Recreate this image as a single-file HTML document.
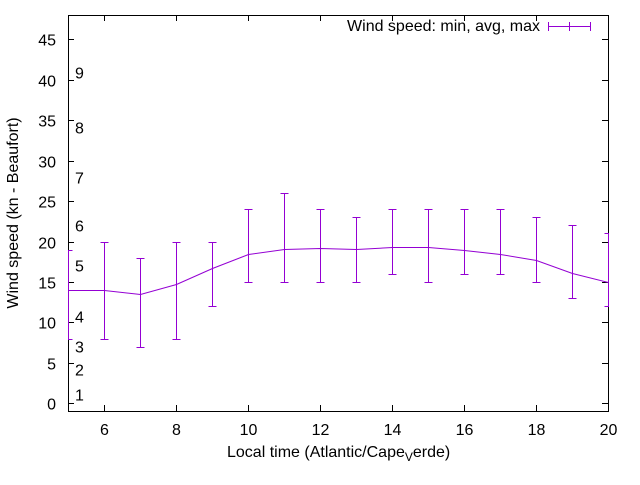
<!DOCTYPE html>
<html><head><style>
body{margin:0;background:#fff;}
svg text{font-family:"Liberation Sans",sans-serif;font-size:16px;fill:#000;}
</style></head><body>
<svg width="640" height="480" id="c" shape-rendering="crispEdges">
<rect x="68.5" y="15.5" width="540" height="396" fill="none" stroke="#000" stroke-width="1"/>
<g id="axes"></g>
<g id="series"></g>
<text x="227" y="457">Local time (Atlantic/Cape<tspan dy="4" font-size="12">V</tspan><tspan dy="-4">erde)</tspan></text>
<text transform="translate(18,213) rotate(-90)" text-anchor="middle">Wind speed (kn - Beaufort)</text>
<g>
<text x="540" y="31" text-anchor="end">Wind speed: min, avg, max</text>
<line x1="548" y1="26.5" x2="590" y2="26.5" stroke="#9400d3"/>
<line x1="548.5" y1="22" x2="548.5" y2="31" stroke="#9400d3"/>
<line x1="590.5" y1="22" x2="590.5" y2="31" stroke="#9400d3"/>
<line x1="569.5" y1="22" x2="569.5" y2="31" stroke="#9400d3"/>
</g>
</svg>
<script>
const hours=[5,6,7,8,9,10,11,12,13,14,15,16,17,18,19,20];
const avgSpeed=[14,14,13.5,14.7,16.7,18.4,19.1,19.2,19.1,19.3,19.3,18.9,18.4,17.7,16.1,15];
const minSpeed=[8,8,7,8,12,15,15,15,15,16,15,16,16,15,13,12];
const maxSpeed=[19,20,18,20,20,24,26,24,23,24,24,24,24,23,22,21];
const xTicks=[6,8,10,12,14,16,18,20];
const yTicks=[0,5,10,15,20,25,30,35,40,45];
const beaufortLabels=["1","2","3","4","5","6","7","8","9"];
const beaufortY=[1.1,4.2,7.1,10.8,17.1,22,28,34.1,41];
const ns="http://www.w3.org/2000/svg";
const L=68,R=608,T=15,B=411,x0=5,x1=20,y0=-0.95,y1=48;
const X=v=>Math.round(L+(v-x0)/(x1-x0)*(R-L))+0.5;
const Y=v=>Math.round(B-(v-y0)/(y1-y0)*(B-T))+0.5;
const ax=document.getElementById('axes'),se=document.getElementById('series');
function mk(t,a,p){const e=document.createElementNS(ns,t);for(const k in a)e.setAttribute(k,a[k]);p.appendChild(e);return e;}
xTicks.forEach(v=>{
 const g=mk('g',{},ax);
 
 
 mk('line',{x1:X(v),x2:X(v),y1:B,y2:B-6,stroke:'#000'},g);
 mk('line',{x1:X(v),x2:X(v),y1:T,y2:T+6,stroke:'#000'},g);
 const t=mk('text',{x:X(v),y:B+24,'text-anchor':'middle'},g);t.textContent=v;
});
yTicks.forEach(v=>{
 const g=mk('g',{},ax);
 
 
 mk('line',{x1:L,x2:L+6,y1:Y(v),y2:Y(v),stroke:'#000'},g);
 mk('line',{x1:R,x2:R-6,y1:Y(v),y2:Y(v),stroke:'#000'},g);
 const t=mk('text',{x:L-12,y:Y(v)+6,'text-anchor':'end'},g);t.textContent=v;
});
beaufortLabels.forEach((s,i)=>{
 const t=mk('text',{x:75,y:Y(beaufortY[i])+6},ax);
 
 
 t.textContent=s;
});
const cp=mk('clipPath',{id:'clp'},se);mk('rect',{x:L,y:T,width:R-L,height:B-T},cp);
const sg=mk('g',{'clip-path':'url(#clp)'},se);
const line=mk('polyline',{points:hours.map((h,i)=>X(h)+','+Y(avgSpeed[i])).join(' '),fill:'none',stroke:'#9400d3','shape-rendering':'auto'},sg);


hours.forEach((h,i)=>{
 const g=mk('g',{stroke:'#9400d3'},se);
 
 
 const x=X(h);
 mk('line',{x1:x,x2:x,y1:Y(minSpeed[i]),y2:Y(maxSpeed[i])},g);
 mk('line',{x1:Math.max(L,x-4),x2:Math.min(R+1,x+4),y1:Y(minSpeed[i]),y2:Y(minSpeed[i])},g);
 mk('line',{x1:Math.max(L,x-4),x2:Math.min(R+1,x+4),y1:Y(maxSpeed[i]),y2:Y(maxSpeed[i])},g);
});
</script>
</body></html>
